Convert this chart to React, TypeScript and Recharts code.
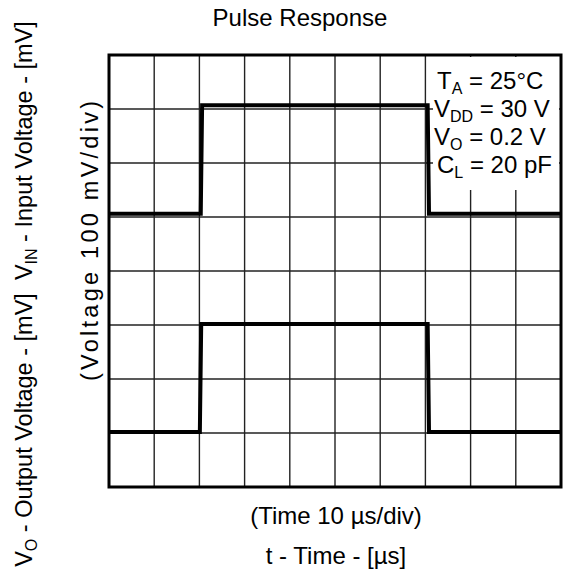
import { CartesianGrid, Line, LineChart, ReferenceArea, XAxis, YAxis } from 'recharts';

// time axis in µs (10 µs/div), voltage axis in mV (100 mV/div)
const timeTicks = [0, 10, 20, 30, 40, 50, 60, 70, 80, 90, 100];
const voltTicks = [0, 100, 200, 300, 400, 500, 600, 700, 800];

const inputTime = [0, 20.3, 20.6, 70.5, 70.8, 100];
const inputMv = [506, 506, 707, 707, 506, 506];

const outputTime = [0, 20.1, 20.4, 70.5, 70.8, 100];
const outputMv = [102, 102, 302, 302, 102, 102];

const conditions = [
  { name: 'T', sub: 'A', value: ' = 25°C' },
  { name: 'V', sub: 'DD', value: ' = 30 V' },
  { name: 'V', sub: 'O', value: ' = 0.2 V' },
  { name: 'C', sub: 'L', value: ' = 20 pF' },
];

const inputData = inputTime.map((t, i) => ({ t, v: inputMv[i] }));
const outputData = outputTime.map((t, i) => ({ t, v: outputMv[i] }));

const FONT = 'Arial, "Liberation Sans", Helvetica, sans-serif';

function Sub({ children, size = 16 }: { children: string; size?: number }) {
  return (
    <tspan fontSize={size} dy={5}>
      {children}
    </tspan>
  );
}

function Conditions() {
  return (
    <svg
      width={126}
      height={133}
      style={{ position: 'absolute', left: 433, top: 57, background: '#fff', fontFamily: FONT }}
    >
      {conditions.map((c, i) => (
        <text key={i} x={c.name === 'V' ? 1 : 4} y={32 + i * 28} fontSize={24} fill="#000">
          <tspan>{c.name}</tspan>
          <Sub>{c.sub}</Sub>
          <tspan dy={-5}>{c.value}</tspan>
        </text>
      ))}
    </svg>
  );
}

export default function App() {
  return (
    <div style={{ position: 'absolute', left: 0, top: 0, width: 563, height: 576, background: '#fff' }}>
      <LineChart
        width={563}
        height={576}
        margin={{ top: 55, right: 2, bottom: 89, left: 109 }}
        style={{ fontFamily: FONT }}
      >
        <XAxis type="number" dataKey="t" domain={[0, 100]} ticks={timeTicks} hide allowDataOverflow />
        <YAxis type="number" dataKey="v" domain={[0, 800]} ticks={voltTicks} hide allowDataOverflow />
        <CartesianGrid
          stroke="#222"
          strokeWidth={1.4}
          horizontalValues={voltTicks}
          verticalValues={timeTicks}
        />
        <ReferenceArea
          x1={0}
          x2={100}
          y1={0}
          y2={800}
          fill="none"
          stroke="#000"
          strokeWidth={3}
          ifOverflow="visible"
        />
        <Line
          data={inputData}
          dataKey="v"
          type="linear"
          stroke="#000"
          strokeWidth={4}
          dot={false}
          isAnimationActive={false}
        />
        <Line
          data={outputData}
          dataKey="v"
          type="linear"
          stroke="#000"
          strokeWidth={4}
          dot={false}
          isAnimationActive={false}
        />

        <text x={300} y={26} textAnchor="middle" fontSize={24} fill="#000">
          Pulse Response
        </text>

        <text x={336} y={524} textAnchor="middle" fontSize={24} fill="#000">
          (Time 10 µs/div)
        </text>
        <text x={336} y={564} textAnchor="middle" fontSize={24} fill="#000">
          t - Time - [µs]
        </text>

        <text
          x={0}
          y={0}
          transform="translate(98,241) rotate(-90)"
          textAnchor="middle"
          fontSize={23.5}
          fill="#000"
          textLength={280}
          lengthAdjust="spacing"
        >
          (Voltage 100 mV/div)
        </text>
        <text
          x={0}
          y={0}
          transform="translate(32,294) rotate(-90)"
          textAnchor="middle"
          fontSize={23.5}
          fill="#000"
        >
          <tspan>V</tspan>
          <Sub>O</Sub>
          <tspan dy={-5}>{' - Output Voltage - [mV]\u00A0 V'}</tspan>
          <Sub>IN</Sub>
          <tspan dy={-5}> - Input Voltage - [mV]</tspan>
        </text>
      </LineChart>
      <Conditions />
    </div>
  );
}
